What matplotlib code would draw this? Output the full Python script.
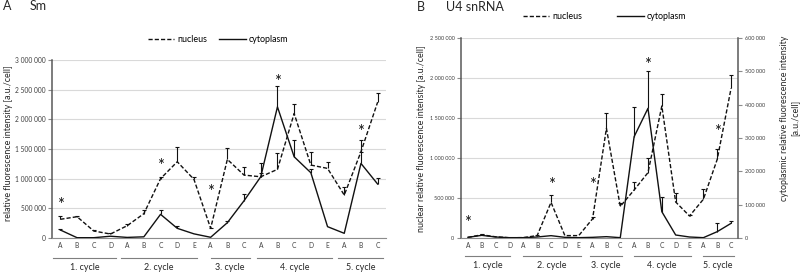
import matplotlib
matplotlib.use('Agg')
import matplotlib.pyplot as plt
from matplotlib.lines import Line2D
import numpy as np

plt.rcParams['font.family'] = ['Lato', 'DejaVu Sans']

# ---------------- data ----------------
cycles = ['1. cycle', '2. cycle', '3. cycle', '4. cycle', '5. cycle']
cycle_stages = [['A', 'B', 'C', 'D'], ['A', 'B', 'C', 'D', 'E'], ['A', 'B', 'C'],
                ['A', 'B', 'C', 'D', 'E'], ['A', 'B', 'C']]
stage_labels = [s for grp in cycle_stages for s in grp]

# Panel A: Sm
sm_nucleus = [315000, 359000, 118000, 67000, 207000, 410000, 1000000, 1285000, 988000,
              163000, 1325000, 1060000, 1032000, 1157000, 2098000, 1229000, 1173000,
              724000, 1453000, 2290000]
sm_nucleus_err = [60000, 20000, 17000, 10000, 28000, 60000, 27000, 252000, 44000,
                  10000, 185000, 130000, 225000, 279000, 168000, 224000, 112000,
                  140000, 197000, 150000]
sm_cyto = [135000, 5000, 5000, 30000, 10000, 20000, 399000, 163000, 70000,
           12000, 258000, 628000, 1032000, 2210000, 1369000, 1100000, 191000,
           79000, 1257000, 909000]
sm_cyto_err = [15000, 0, 0, 0, 0, 0, 71000, 37000, 0,
               0, 32000, 108000, 60000, 349000, 281000, 60000, 0,
               0, 196000, 96000]
sm_star_idx = [0, 6, 9, 13, 18]
sm_star_y = [640000, 1300000, 864000, 2716000, 1864000]

# Panel B: U4 snRNA (nucleus on left axis, cytoplasm on right axis)
u4_nucleus = [8000, 40000, 15000, 3000, 5000, 30000, 446000, 30000, 30000,
              240000, 1371000, 395000, 600000, 817000, 1650000, 450000, 275000,
              484000, 983000, 1871000]
u4_nucleus_err = [0, 5000, 0, 0, 0, 10000, 91000, 0, 0,
                  25000, 187000, 45000, 96000, 187000, 146000, 117000, 12000,
                  133000, 129000, 166000]
u4_cyto = [2000, 8000, 3000, 1000, 1000, 3000, 7000, 2000, 1000,
           2000, 4000, 1000, 304000, 389000, 79000, 9000, 3000,
           1000, 19000, 44000]
u4_cyto_err = [0, 0, 0, 0, 0, 0, 0, 0, 0,
               0, 0, 0, 90000, 112000, 45000, 0, 0,
               0, 27000, 8000]
u4_star_idx = [0, 6, 9, 13, 18]
u4_star_y = [246000, 725000, 725000, 2225000, 1384000]

# ---------------- layout ----------------
W, H = 800, 273
fig = plt.figure(figsize=(W / 100, H / 100), dpi=100)

LINE_C = '#111111'
AX_C = '#8c8c8c'
GRID_C = '#d9d9d9'
TICK_FS = 4.8
TICK_FS_B = 4.0
LAB_FS = 6.4
TITLE_FS = 9.0
DASH = (0, (3.0, 1.5))
LW = 1.0


def fmt(v):
    return f"{int(v):,}".replace(',', ' ')


def rect(l, r, b, t):
    return [l / W, 1 - b / H, (r - l) / W, (b - t) / H]


def plus_err(ax, x, y, e, cap=3.2):
    x = np.asarray(x); y = np.asarray(y); e = np.asarray(e)
    m = e > 0
    ax.vlines(x[m], y[m], y[m] + e[m], color=LINE_C, lw=0.8, zorder=3)
    ax.plot(x[m], y[m] + e[m], ls='none', marker='_', ms=cap, mew=0.8, color=LINE_C, zorder=3)


def base_axis(ax, ymax, step, yfs):
    n = len(stage_labels)
    ax.set_xlim(-0.5, n - 0.5)
    ax.set_ylim(0, ymax)
    ax.set_yticks(np.arange(0, ymax + 1, step))
    ax.set_yticklabels([fmt(v) for v in np.arange(0, ymax + 1, step)], fontsize=yfs, color='#404040')
    ax.yaxis.grid(True, color=GRID_C, lw=0.8)
    ax.set_axisbelow(True)
    ax.set_xticks(range(n))
    ax.set_xticklabels(stage_labels, fontsize=TICK_FS, color='#404040')
    ax.tick_params(axis='x', length=0, pad=3.0)
    ax.tick_params(axis='y', length=2.7, width=0.8, color=AX_C, pad=2.0)
    for s in ['top', 'right']:
        ax.spines[s].set_visible(False)
    ax.spines['left'].set_color('#595959')
    ax.spines['left'].set_linewidth(1.1)
    ax.spines['bottom'].set_color(AX_C)
    ax.spines['bottom'].set_linewidth(0.8)


def cycle_marks(ax, spans, line_off, text_off):
    hpx = ax.get_position().height * H
    tr = ax.get_xaxis_transform()
    for (a, b), name in zip(spans, cycles):
        ax.plot([a, b], [-line_off / hpx] * 2, transform=tr, clip_on=False,
                color='#7f7f7f', lw=0.8)
        ax.text((a + b) / 2, -text_off / hpx, name, transform=tr, ha='center', va='center',
                fontsize=LAB_FS, color='#262626')


def stars(ax, idx, ys):
    for i, y in zip(idx, ys):
        ax.annotate('*', (i, y), xytext=(0, -3.6), textcoords='offset points',
                    ha='center', va='center', fontsize=12, color=LINE_C)


xs = np.arange(len(stage_labels))

# ---- Panel A ----
axA = fig.add_axes(rect(52, 386, 238, 60))
base_axis(axA, 3000000, 500000, TICK_FS)
axA.plot(xs, sm_nucleus, color=LINE_C, lw=LW, ls=DASH, zorder=4)
axA.plot(xs, sm_cyto, color=LINE_C, lw=LW, zorder=4)
plus_err(axA, xs, sm_nucleus, sm_nucleus_err)
plus_err(axA, xs, sm_cyto, sm_cyto_err)
stars(axA, sm_star_idx, sm_star_y)
cycle_marks(axA, [(-0.44, 3.33), (3.63, 8.17), (9.0, 11.33), (11.8, 16.29), (16.65, 19.33)],
            19.7, 29)
fig.text(0.011, 1 - 143.5 / H, 'relative fluorescence intensity [a.u./cell]', rotation=90,
         ha='center', va='center', fontsize=LAB_FS, color='#262626')
fig.text(2.7 / W, 1 - 6.5 / H, 'A', fontsize=TITLE_FS, ha='left', va='center', color='#262626')
fig.text(29.3 / W, 1 - 6.5 / H, 'Sm', fontsize=TITLE_FS, ha='left', va='center', color='#262626')

hN = Line2D([], [], color=LINE_C, lw=LW, ls=DASH)
hC = Line2D([], [], color=LINE_C, lw=LW)
axA.legend([hN, hC], ['nucleus', 'cytoplasm'], loc='center', bbox_to_anchor=(218 / W, 1 - 39.3 / H),
           bbox_transform=fig.transFigure, ncol=2, frameon=False, fontsize=LAB_FS,
           handlelength=3.0, handletextpad=0.3, columnspacing=1.4)

# ---- Panel B ----
axB = fig.add_axes(rect(461, 738, 238, 38))
base_axis(axB, 2500000, 500000, TICK_FS_B)
axB2 = axB.twinx()
axB2.set_ylim(0, 600000)
axB2.set_yticks(np.arange(0, 600001, 100000))
axB2.set_yticklabels([fmt(v) for v in np.arange(0, 600001, 100000)], fontsize=TICK_FS_B, color='#404040')
axB2.tick_params(axis='y', length=2.7, width=0.8, color=AX_C, pad=2.0)
for s in ['top', 'left', 'bottom']:
    axB2.spines[s].set_visible(False)
axB2.spines['right'].set_color('#595959')
axB2.spines['right'].set_linewidth(1.1)

axB.plot(xs, u4_nucleus, color=LINE_C, lw=LW, ls=DASH, zorder=4)
plus_err(axB, xs, u4_nucleus, u4_nucleus_err)
axB2.plot(xs, u4_cyto, color=LINE_C, lw=LW, zorder=4)
plus_err(axB2, xs, u4_cyto, u4_cyto_err)
stars(axB, u4_star_idx, u4_star_y)
cycle_marks(axB, [(-0.2, 3.07), (3.99, 8.14), (8.81, 11.16), (11.96, 16.1), (16.96, 19.18)],
            18, 27)
fig.text(421 / W, 1 - 138.5 / H, 'nuclear relative fluorescence intensity [a.u./cell]', rotation=90,
         ha='center', va='center', fontsize=LAB_FS, color='#262626')
fig.text(790 / W, 1 - 118 / H, 'cytoplasmic relative fluorescence intensity\n[a.u./cell]', rotation=90,
         ha='center', va='center', fontsize=LAB_FS, color='#262626', linespacing=1.2, multialignment='center')
fig.text(416.7 / W, 1 - 7 / H, 'B', fontsize=TITLE_FS, ha='left', va='center', color='#262626')
fig.text(446 / W, 1 - 7 / H, 'U4 snRNA', fontsize=TITLE_FS, ha='left', va='center', color='#262626')
axB.legend([hN, hC], ['nucleus', 'cytoplasm'], loc='center', bbox_to_anchor=((537 + 672) / 2 / W, 1 - 16.7 / H),
           bbox_transform=fig.transFigure, ncol=2, frameon=False, fontsize=LAB_FS,
           handlelength=3.0, handletextpad=0.3, columnspacing=4.0)

fig.savefig('out.png', dpi=100)
